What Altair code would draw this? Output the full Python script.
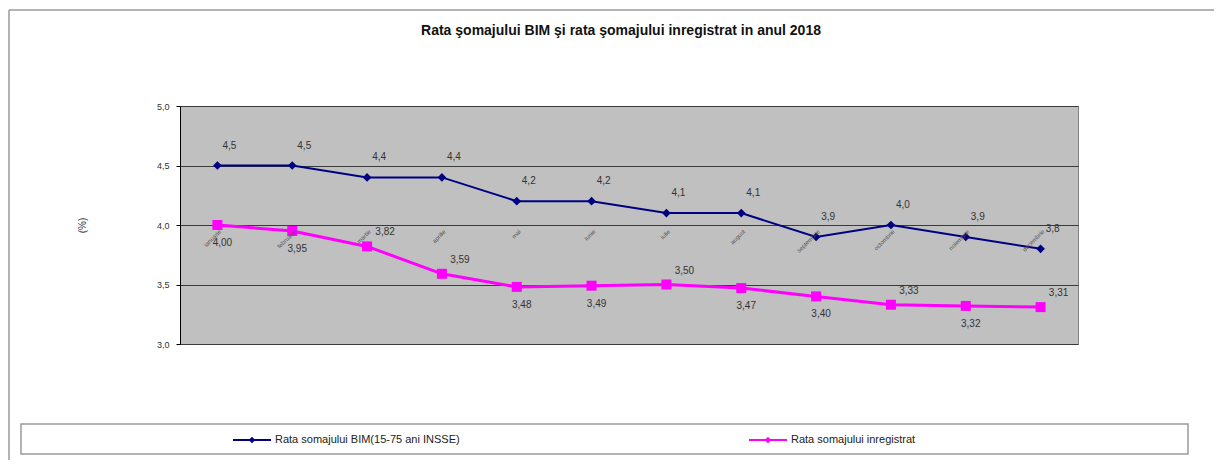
import altair as alt
import pandas as pd

# ---------------- data ----------------
luni = ["ianuarie", "februarie", "martie", "aprilie", "mai", "iunie",
        "iulie", "august", "septembrie", "octombrie", "noiembrie", "decembrie"]
serie_bim = "Rata somajului BIM(15-75 ani INSSE)"
serie_inreg = "Rata somajului inregistrat"
rata_bim = [4.5, 4.5, 4.4, 4.4, 4.2, 4.2, 4.1, 4.1, 3.9, 4.0, 3.9, 3.8]
rata_inreg = [4.00, 3.95, 3.82, 3.59, 3.48, 3.49, 3.50, 3.47, 3.40, 3.33, 3.32, 3.31]
y_ticks = [3.0, 3.5, 4.0, 4.5, 5.0]
# months whose registered-rate label sits above the marker (as in the original)
luni_eticheta_sus = ["martie", "aprilie", "iulie", "octombrie", "decembrie"]

rows = []
for l, b, r in zip(luni, rata_bim, rata_inreg):
    rows.append({"luna": l, "serie": serie_bim, "valoare": b, "dec": 1})
    rows.append({"luna": l, "serie": serie_inreg, "valoare": r, "dec": 2})
df = pd.DataFrame(rows)

NAVY = "#000080"
MAGENTA = "#ff00ff"
FONT = "Liberation Sans"

x_enc = alt.X("luna:N", sort=luni, axis=None,
              scale=alt.Scale(type="point", padding=0.5))
y_scale = alt.Scale(domain=[3.0, 5.0], nice=False, zero=False)
y_enc = alt.Y("valoare:Q", scale=y_scale,
              axis=alt.Axis(values=y_ticks, title="(%)",
                            labelExpr="replace(format(datum.value, '.1f'), '.', ',')",
                            labelFont=FONT, labelFontSize=9, labelColor="#333",
                            labelPadding=7, tickSize=4, tickColor="#000",
                            domainColor="#000", grid=True, gridColor="#3a3a3a",
                            gridWidth=1, titleFont=FONT, titleFontSize=10,
                            titleFontWeight="normal", titleColor="#333",
                            titleX=-93, titleY=119, titleAngle=270))
color_scale = alt.Scale(domain=[serie_bim, serie_inreg], range=[NAVY, MAGENTA])

base = alt.Chart(df)

# decorative outer frame and legend box
frame_left = alt.Chart(alt.Data(values=[{}])).mark_rule(color="#9a9a9a", strokeWidth=1.5).encode(
    x=alt.value(-171), y=alt.value(-96), y2=alt.value(370))
frame_top = alt.Chart(alt.Data(values=[{}])).mark_rule(color="#9a9a9a", strokeWidth=1.5).encode(
    x=alt.value(-171), x2=alt.value(1050), y=alt.value(-96))
legend_box = alt.Chart(alt.Data(values=[{}])).mark_rect(
    fill="white", stroke="#9a9a9a", strokeWidth=1.5).encode(
    x=alt.value(-159), x2=alt.value(1008), y=alt.value(318), y2=alt.value(348))

legend = alt.Legend(
    title=None, orient="none", legendX=52, legendY=314, direction="horizontal",
    columnPadding=285, labelFont=FONT, labelFontSize=11, labelColor="#222",
    labelLimit=0,
    symbolType="M-1,0H1M0,-0.1L0.1,0L0,0.1L-0.1,0Z", symbolSize=1444,
    symbolStrokeWidth=2, labelOffset=3, padding=0, zindex=2,
)

lines = base.mark_line().encode(
    x=x_enc, y=y_enc,
    color=alt.Color("serie:N", scale=color_scale, legend=legend),
    strokeWidth=alt.condition(alt.datum.serie == serie_inreg, alt.value(3), alt.value(2)),
)
pts_bim = base.transform_filter(alt.datum.serie == serie_bim).mark_point(
    shape="diamond", filled=True, size=75, opacity=1).encode(
    x=x_enc, y=alt.Y("valoare:Q", scale=y_scale),
    color=alt.Color("serie:N", scale=color_scale, legend=None))
pts_inreg = base.transform_filter(alt.datum.serie == serie_inreg).mark_point(
    shape="square", filled=True, size=100, opacity=1).encode(
    x=x_enc, y=alt.Y("valoare:Q", scale=y_scale),
    color=alt.Color("serie:N", scale=color_scale, legend=None))

fmt = "replace(format(datum.valoare, '.' + datum.dec + 'f'), '.', ',')"
lab_bim = base.transform_filter(alt.datum.serie == serie_bim).transform_calculate(
    et=fmt).mark_text(font=FONT, fontSize=10, color="#333", dx=12, dy=-20).encode(
    x=x_enc, y=alt.Y("valoare:Q", scale=y_scale), text="et:N")
lab_inreg_jos = base.transform_filter(alt.datum.serie == serie_inreg).transform_filter(
    ~alt.FieldOneOfPredicate(field="luna", oneOf=luni_eticheta_sus)
).transform_calculate(et=fmt).mark_text(
    font=FONT, fontSize=10, color="#333", dx=5, dy=18).encode(
    x=x_enc, y=alt.Y("valoare:Q", scale=y_scale), text="et:N")
lab_inreg_sus = base.transform_filter(alt.datum.serie == serie_inreg).transform_filter(
    alt.FieldOneOfPredicate(field="luna", oneOf=luni_eticheta_sus)
).transform_calculate(et=fmt).mark_text(
    font=FONT, fontSize=10, color="#333", dx=18, dy=-14).encode(
    x=x_enc, y=alt.Y("valoare:Q", scale=y_scale), text="et:N")

luni_df = pd.DataFrame({"luna": luni, "nivel": [4.0] * len(luni)})
lab_luni = alt.Chart(luni_df).mark_text(
    font=FONT, fontSize=6, color="#555", angle=315, align="right",
    baseline="middle", dy=6, dx=-2).encode(
    x=x_enc, y=alt.Y("nivel:Q", scale=y_scale), text="luna:N")

chart = alt.layer(
    frame_left, frame_top, legend_box,
    lines, pts_bim, pts_inreg,
    lab_luni, lab_bim, lab_inreg_jos, lab_inreg_sus,
).properties(
    width=898, height=238,
    title=alt.TitleParams(
        "Rata şomajului BIM şi rata şomajului inregistrat in anul 2018",
        font=FONT, fontSize=14, fontWeight="bold", color="#111",
        anchor="middle", frame="group", dx=-8, offset=-29),
    autosize=alt.AutoSizeParams(type="none"),
    padding={"left": 172, "top": 98, "right": 136, "bottom": 116},
).configure_view(
    fill="#c0c0c0", stroke="#808080", strokeWidth=1
)

chart.save("out.html", embed_options={"renderer": "svg", "actions": False})
